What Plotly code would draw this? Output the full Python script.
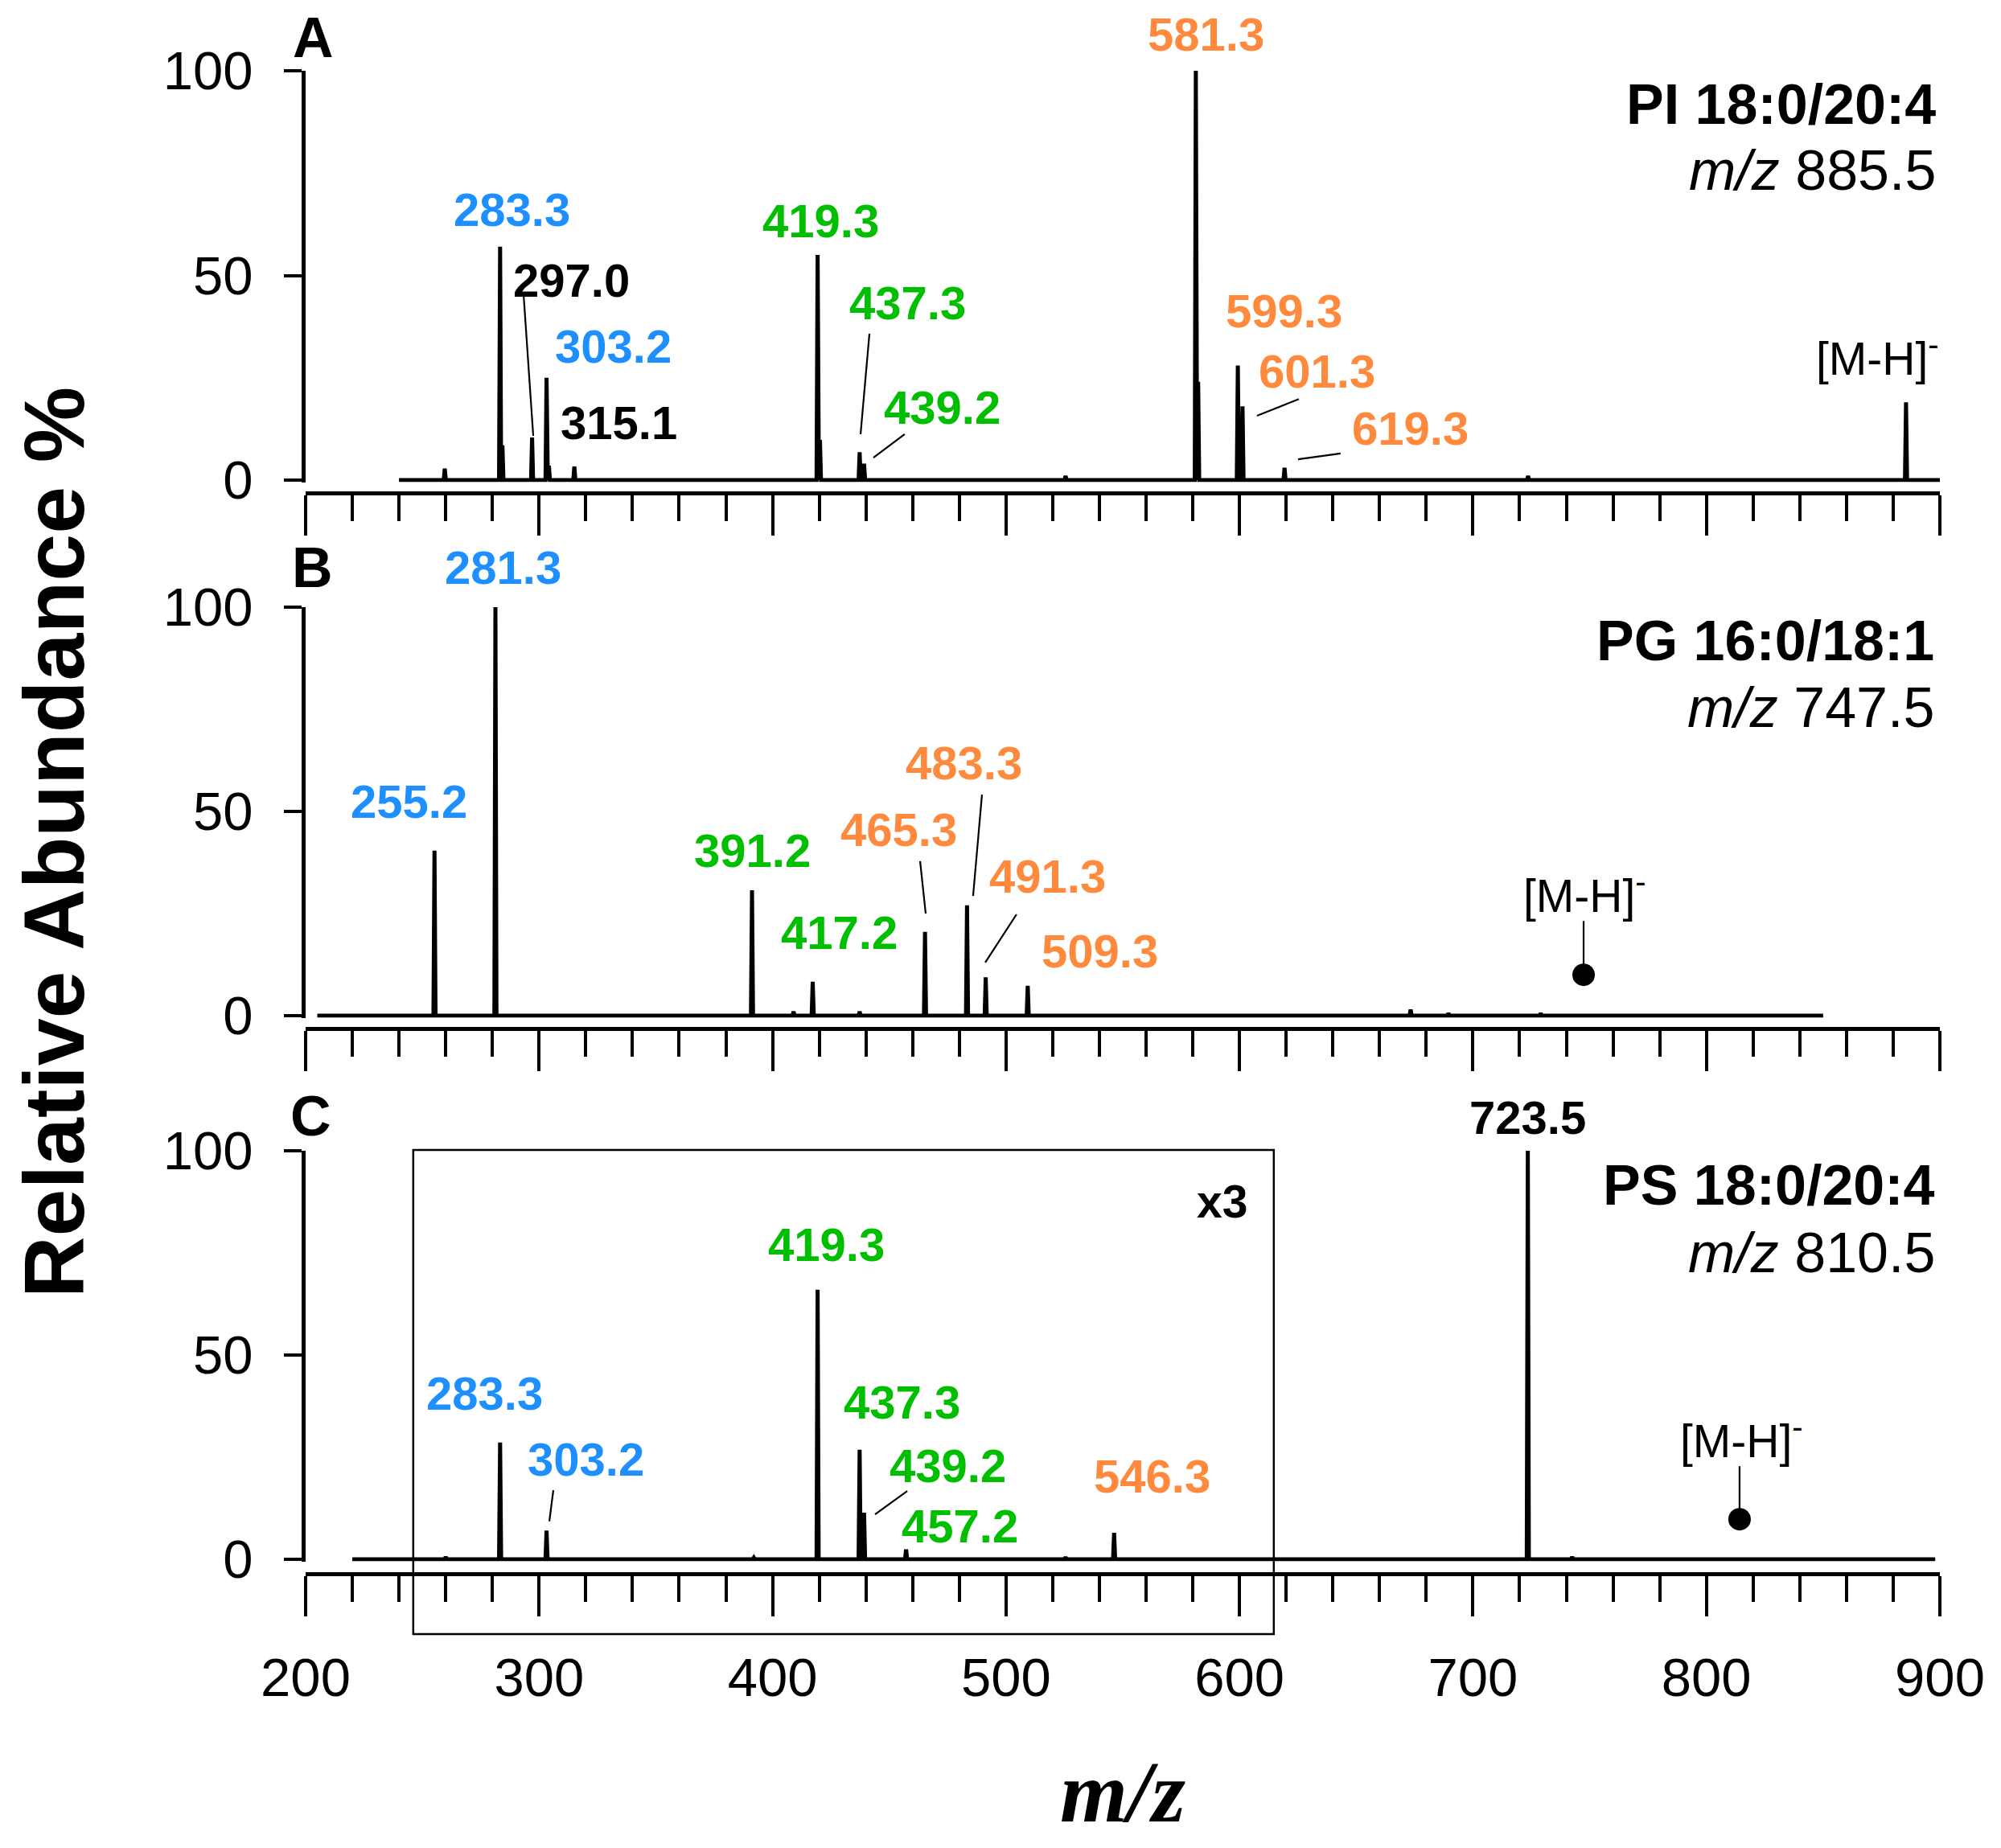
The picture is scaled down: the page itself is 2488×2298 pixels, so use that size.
import plotly.graph_objects as go

OFF = 8  # page body margin of the html page
W, H = 2488 - 2 * OFF, 2298 - 2 * OFF
FONT = "Arial, Liberation Sans, sans-serif"
SERIF = "Times New Roman, Liberation Serif, serif"
BLUE, GREEN, ORANGE, BLACK = "#1E8FFF", "#00BE00", "#FF8A3D", "#000000"

X_RANGE = [200, 900]
Y_RANGE = [-0.5, 100]

# ---------------- data ----------------
# Panel A: PI 18:0/20:4
A_baseline = [240, 900]
A_mz = [259.6, 283.3, 284.3, 297.0, 303.2, 304.2, 315.1, 419.3, 420.3, 437.3, 439.2,
        525.5, 581.3, 582.3, 599.3, 601.3, 619.3, 723.6, 885.5]
A_int = [2.8, 57.0, 8.5, 10.4, 25.0, 3.5, 3.3, 55.0, 9.8, 6.8, 4.0,
         1.0, 100.0, 24.0, 28.0, 18.0, 3.0, 1.0, 19.0]

# Panel B: PG 16:0/18:1
B_baseline = [205, 850]
B_mz = [255.2, 281.3, 391.2, 409.0, 417.2, 437.3, 465.3, 483.3, 491.3, 509.3, 673.3, 689.5, 729.0]
B_int = [40.4, 100.0, 30.7, 1.0, 8.3, 1.0, 20.5, 27.0, 9.4, 7.3, 1.5, 0.6, 0.6]

# Panel C: PS 18:0/20:4
C_baseline = [220, 898]
C_mz = [260.0, 283.3, 303.2, 392.0, 419.3, 437.3, 439.2, 457.2, 525.5, 546.3, 723.5, 742.5]
C_int = [0.6, 28.6, 7.0, 0.4, 66.0, 26.8, 11.4, 2.4, 0.5, 6.5, 100.0, 0.6]

# peak labels: (text, x, y, colour)
A_labels = [("283.3", 288.5, 66.2, BLUE), ("297.0", 313.7, 48.9, BLACK),
            ("303.2", 331.9, 32.8, BLUE), ("315.1", 334.3, 14.1, BLACK),
            ("419.3", 420.5, 63.3, GREEN), ("437.3", 458.0, 43.4, GREEN),
            ("439.2", 472.8, 17.7, GREEN), ("581.3", 585.5, 109.0, ORANGE),
            ("599.3", 618.9, 41.3, ORANGE), ("601.3", 633.3, 26.7, ORANGE),
            ("619.3", 673.0, 12.6, ORANGE)]
B_labels = [("281.3", 284.7, 109.8, BLUE), ("255.2", 244.4, 52.4, BLUE),
            ("391.2", 391.2, 40.4, GREEN), ("417.2", 428.4, 20.3, GREEN),
            ("465.3", 454.2, 45.5, ORANGE), ("483.3", 482.1, 62.0, ORANGE),
            ("491.3", 517.9, 34.1, ORANGE), ("509.3", 540.3, 15.9, ORANGE)]
C_labels = [("723.5", 723.6, 108.1, BLACK), ("283.3", 276.5, 40.7, BLUE),
            ("303.2", 319.9, 24.6, BLUE), ("419.3", 423.2, 77.0, GREEN),
            ("437.3", 455.6, 38.4, GREEN), ("439.2", 474.9, 23.0, GREEN),
            ("457.2", 480.1, 8.1, GREEN), ("546.3", 562.4, 20.3, ORANGE)]

# leader lines: (x0, y0, x1, y1)
A_leaders = [(293.4, 45.0, 297.5, 10.8), (441.5, 35.8, 437.7, 11.2),
             (456.6, 11.2, 443.2, 5.5), (625.4, 19.8, 607.5, 15.7),
             (643.3, 6.5, 625.1, 5.1)]
B_leaders = [(463.2, 37.8, 465.6, 25.0), (489.7, 54.1, 485.9, 29.3),
             (504.5, 24.8, 491.1, 13.0), (747.4, 23.2, 747.4, 10.0)]
C_leaders = [(306.1, 16.9, 304.4, 9.3), (457.7, 16.7, 443.9, 11.0),
             (814.2, 22.8, 814.2, 9.8)]

# precursor dots
B_dot = (747.4, 10.0)
C_dot = (814.2, 9.8)

# compound names (name, precursor, x, y_name, y_mz)
names = [("PI 18:0/20:4", "885.5", 899.0, 91.7, 75.6),
         ("PG 16:0/18:1", "747.5", 898.3, 91.7, 75.4),
         ("PS 18:0/20:4", "810.5", 898.6, 91.5, 75.0)]
mh_labels = [(873.4, 30.5), (748.0, 30.1), (815.2, 29.7)]
panel_letters = [("A", 203.1, 108.1), ("B", 202.8, 109.6), ("C", 202.1, 108.5)]

# x3 inset box (panel C)
box_x = [246.1, 614.7]
box_y = [-18.3, 100.2]
box_label = ("x3", 592.7, 87.6)

x_major = list(range(200, 901, 100))

# ---------------- layout geometry (page pixels) ----------------
PLOT_L, PLOT_R = 380 - OFF, 2412 - OFF
TOP_PX = [p - OFF for p in (88, 755, 1431)]     # y = 100
ZERO_PX = [p - OFF for p in (597, 1263, 1939)]  # y = 0
XAX_PX = [p - OFF for p in (613, 1279, 1957)]   # x axis line
YTITLE_PX = (67 - OFF, 1048 - OFF)
XTITLE_PY = 2228 - OFF


def stick(baseline, mz, inten, hw=0.45):
    xs, ys = [baseline[0]], [0]
    for m, h in sorted(zip(mz, inten)):
        xs += [m - hw, m, m + hw]
        ys += [0, h, 0]
    xs.append(baseline[1])
    ys.append(0)
    return xs, ys


fig = go.Figure()
spectra = [(A_baseline, A_mz, A_int), (B_baseline, B_mz, B_int), (C_baseline, C_mz, C_int)]
for i, (bl, mz, it) in enumerate(spectra):
    xs, ys = stick(bl, mz, it)
    sfx = "" if i == 0 else str(i + 1)
    fig.add_trace(go.Scatter(x=xs, y=ys, mode="lines", line=dict(color="black", width=5),
                             xaxis="x" + sfx, yaxis="y" + sfx, showlegend=False,
                             hoverinfo="skip"))

for i, dot in [(1, B_dot), (2, C_dot)]:
    sfx = str(i + 1)
    fig.add_trace(go.Scatter(x=[dot[0]], y=[dot[1]], mode="markers",
                             marker=dict(color="black", size=28),
                             xaxis="x" + sfx, yaxis="y" + sfx, showlegend=False))

layout = dict(width=W, height=H, autosize=False,
              margin=dict(l=0, r=0, t=0, b=0, pad=0, autoexpand=False),
              paper_bgcolor="white", plot_bgcolor="white", showlegend=False)
ppus = []
for i in range(3):
    sfx = "" if i == 0 else str(i + 1)
    ppu = (ZERO_PX[i] - TOP_PX[i]) / 100.0
    ppus.append(ppu)
    bottom = ZERO_PX[i] + (0 - Y_RANGE[0]) * ppu
    ydom = [1 - bottom / H, 1 - TOP_PX[i] / H]
    layout["xaxis" + sfx] = dict(
        domain=[PLOT_L / W, PLOT_R / W], range=X_RANGE, anchor="free",
        position=1 - XAX_PX[i] / H, showline=True, linewidth=5, linecolor="black",
        ticks="outside", tickvals=x_major, ticklen=50, tickwidth=4, tickcolor="black",
        minor=dict(dtick=20, tick0=200, ticks="outside", ticklen=32, tickwidth=4,
                   tickcolor="black", showgrid=False),
        showgrid=False, zeroline=False, showticklabels=(i == 2), automargin=False,
        tickfont=dict(family=FONT, size=67, color="black"), ticklabelstandoff=19)
    layout["yaxis" + sfx] = dict(
        domain=ydom, range=Y_RANGE, anchor="x" + sfx, showline=True, linewidth=5,
        linecolor="black", ticks="outside", tickvals=[0, 50, 100], ticklen=22,
        tickwidth=4, tickcolor="black", showgrid=False, zeroline=False, automargin=False,
        tickfont=dict(family=FONT, size=67, color="black"), ticklabelstandoff=25)
fig.update_layout(**layout)

ann = []


def label(i, text, x, y, color, size, xanchor="center"):
    sfx = "" if i == 0 else str(i + 1)
    yshift = 0
    if y > 100:
        yshift = (y - 100) * ppus[i]
        y = 100
    ann.append(dict(x=x, y=y, xref="x" + sfx, yref="y" + sfx, text=text, showarrow=False,
                    xanchor=xanchor, yanchor="middle", yshift=yshift,
                    font=dict(family=FONT, size=size, color=color)))


for i, labs in enumerate([A_labels, B_labels, C_labels]):
    for t, x, y, c in labs:
        label(i, "<b>%s</b>" % t, x, y, c, 58)
for i, (nm, mzs, x, yn, ym) in enumerate(names):
    label(i, "<b>%s</b>" % nm, x, yn, BLACK, 70, xanchor="right")
    label(i, "<i>m/z</i> %s" % mzs, x, ym, BLACK, 70, xanchor="right")
for i, (x, y) in enumerate(mh_labels):
    label(i, "[M-H]<sup>-</sup>", x, y, BLACK, 57)
for i, (t, x, y) in enumerate(panel_letters):
    label(i, "<b>%s</b>" % t, x, y, BLACK, 70)
label(2, "<b>%s</b>" % box_label[0], box_label[1], box_label[2], BLACK, 57)

# axis titles
ann.append(dict(x=YTITLE_PX[0] / W, y=1 - YTITLE_PX[1] / H, xref="paper", yref="paper",
                text="<b>Relative Abundance %</b>", textangle=-90, showarrow=False,
                xanchor="center", yanchor="middle",
                font=dict(family=FONT, size=106, color="black")))
ann.append(dict(x=0.5, y=1 - XTITLE_PY / H, xref="x3 domain", yref="paper",
                text="<b><i>m/z</i></b>", showarrow=False, xanchor="center",
                yanchor="middle", font=dict(family=SERIF, size=108, color="black")))

shapes = []
for i, leads in enumerate([A_leaders, B_leaders, C_leaders]):
    sfx = "" if i == 0 else str(i + 1)
    for x0, y0, x1, y1 in leads:
        shapes.append(dict(type="line", xref="x" + sfx, yref="y" + sfx,
                           x0=x0, y0=y0, x1=x1, y1=y1,
                           line=dict(color="black", width=2.2)))


def xdom(v):
    return (v - X_RANGE[0]) / (X_RANGE[1] - X_RANGE[0])


def ydom_f(v):
    return (v - Y_RANGE[0]) / (Y_RANGE[1] - Y_RANGE[0])


shapes.append(dict(type="rect", xref="x3 domain", yref="y3 domain",
                   x0=xdom(box_x[0]), x1=xdom(box_x[1]),
                   y0=ydom_f(box_y[0]), y1=ydom_f(box_y[1]),
                   line=dict(color="black", width=2.5), fillcolor="rgba(0,0,0,0)"))

fig.update_layout(annotations=ann, shapes=shapes)
fig.write_html("out.html")
